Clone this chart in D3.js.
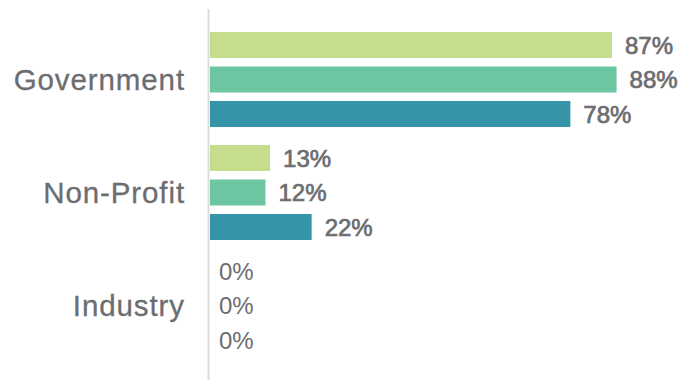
<!DOCTYPE html>
<html>
<head>
<meta charset="utf-8">
<script src="https://cdn.jsdelivr.net/npm/d3@7"></script>
<style>
  html, body { margin: 0; padding: 0; background: #fff; }
  svg { display: block; }
</style>
</head>
<body>
<div id="chart"></div>
<script>
// Grouped horizontal bars: share (%) per sector, three series per sector.
const categories = ["Government", "Non-Profit", "Industry"];
const seriesNames = ["Series 1", "Series 2", "Series 3"];
const series1 = [87, 13, 0];
const series2 = [88, 12, 0];
const series3 = [78, 22, 0];
const seriesColors = ["#c5de8b", "#6cc6a1", "#3594a7"];

const width = 679, height = 381;
const textColor = "#6c6d70";

const rows = categories.map((c, i) => ({
  category: c,
  values: [series1[i], series2[i], series3[i]].map((v, j) => ({ key: seriesNames[j], value: v, color: seriesColors[j] }))
}));

const svg = d3.select("#chart").append("svg")
  .attr("width", width)
  .attr("height", height);

const x = d3.scaleLinear().domain([0, 100]).range([210, 672]);

const y = d3.scaleBand()
  .domain(categories)
  .range([23, 362])
  .paddingInner(18 / 113)
  .paddingOuter(9 / 113);

const yInner = d3.scaleBand()
  .domain(seriesNames)
  .range([0, y.bandwidth()])
  .paddingInner(0.246)
  .paddingOuter(0);

// Category axis line
svg.append("line")
  .attr("x1", 208.5).attr("x2", 208.5)
  .attr("y1", 9).attr("y2", 380)
  .attr("stroke", "#dcdcdc")
  .attr("stroke-width", 2);

// Category labels
svg.append("g")
  .selectAll("text")
  .data(categories)
  .join("text")
  .attr("x", 185)
  .attr("y", d => y(d) + y.bandwidth() / 2)
  .attr("dy", "0.35em")
  .attr("text-anchor", "end")
  .attr("font-family", "'Liberation Sans', Arial, sans-serif")
  .attr("font-size", 29.5)
  .attr("letter-spacing", 0.9)
  .attr("fill", textColor)
  .attr("stroke", textColor)
  .attr("stroke-width", 0.3)
  .text(d => d);

const groups = svg.append("g")
  .selectAll("g")
  .data(rows)
  .join("g")
  .attr("transform", d => `translate(0,${y(d.category)})`);

groups.selectAll("rect")
  .data(d => d.values)
  .join("rect")
  .attr("x", x(0))
  .attr("y", d => yInner(d.key))
  .attr("width", d => x(d.value) - x(0))
  .attr("height", yInner.bandwidth())
  .attr("fill", d => d.color);

// Value labels: non-zero values are set slightly heavier
groups.selectAll("text")
  .data(d => d.values)
  .join("text")
  .attr("x", d => x(d.value) + (d.value > 0 ? 13 : 9))
  .attr("y", d => yInner(d.key) + yInner.bandwidth() / 2)
  .attr("dy", "0.36em")
  .attr("font-family", "'Liberation Sans', Arial, sans-serif")
  .attr("font-size", 24)
  .attr("fill", textColor)
  .attr("stroke", d => d.value > 0 ? textColor : "none")
  .attr("stroke-width", 0.7)
  .text(d => d.value + "%");
</script>
</body>
</html>
